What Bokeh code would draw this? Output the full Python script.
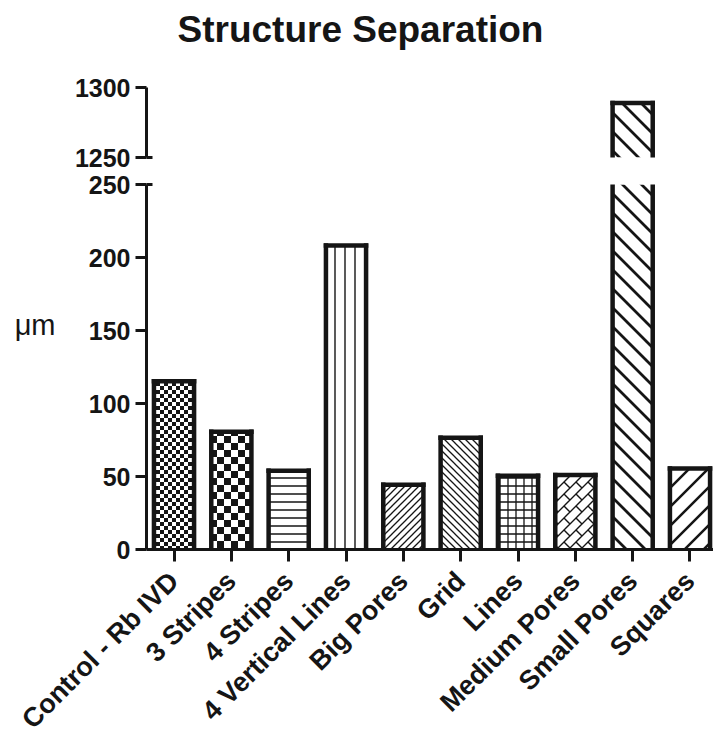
import math
from bokeh.plotting import figure
from bokeh.models import (ColumnDataSource, Range1d, FixedTicker, CanvasTexture,
                          LinearAxis, CDSView, BooleanFilter)
from bokeh.transform import dodge
from bokeh.layouts import column
from bokeh.embed import file_html
from bokeh.resources import INLINE

# ---------------- data ----------------
categories = ["Control - Rb IVD", "3 Stripes", "4 Stripes", "4 Vertical Lines",
              "Big Pores", "Grid", "Lines", "Medium Pores", "Small Pores", "Squares"]
values = [115.3, 80.7, 54.0, 208.2, 44.4, 76.6, 50.5, 51.0, 1289.0, 55.5]
upper_ticks = [1250, 1300]
lower_ticks = [0, 50, 100, 150, 200, 250]
title_text = "Structure Separation"
y_label = "\u03bcm"

# ---------------- styles ----------------
hatch_names = ["chk_fine", "chk_coarse", "hline", "vline", "rdiag_fine",
               "ldiag_fine", "grid", "brick", "ldiag_coarse", "rdiag_coarse"]
hatch_kind = {"chk_fine": ("chk", 8, 1), "chk_coarse": ("chk", 14, 1),
              "hline": ("h", 8, 1.5), "vline": ("v", 10, 1.4),
              "rdiag_fine": ("r", 7, 1.3), "ldiag_fine": ("l", 7, 1.3),
              "grid": ("grid", 8, 1.3), "brick": ("brick", 12, 1.4),
              "ldiag_coarse": ("l", 19, 2.8), "rdiag_coarse": ("r", 19, 2.5)}

INK = "#151515"
FONT = "Liberation Sans"
BAR_W = 0.7
OUTLINE = 4.5
WIDTH = 713
LEFT = 146


def texture_code(kind, S, W):
    js = (f"const S = {S}; const W = {W}; const s = S; const w = W + 1;\n"
          "const cv = ctx.canvas; cv.width = S; cv.height = S;\n"
          "ctx.setTransform(1, 0, 0, 1, 0, 0); ctx.clearRect(0, 0, S, S);\n"
          f"ctx.fillStyle = '{INK}'; ctx.strokeStyle = '{INK}'; ctx.lineWidth = W;\n")
    if kind == "chk":
        return js + "const h = S/2; ctx.fillRect(0, 0, h, h); ctx.fillRect(h, h, h, h);\n"
    js += "ctx.beginPath();\n"
    if kind in ("h", "grid"):
        js += "ctx.moveTo(0, s/2); ctx.lineTo(s, s/2);\n"
    if kind in ("v", "grid"):
        js += "ctx.moveTo(s/2, 0); ctx.lineTo(s/2, s);\n"
    if kind in ("r", "brick"):
        js += ("ctx.moveTo(-1, s+1); ctx.lineTo(s+1, -1);\n"
               "ctx.moveTo(-w, w); ctx.lineTo(w, -w);\n"
               "ctx.moveTo(s-w, s+w); ctx.lineTo(s+w, s-w);\n")
    if kind == "l":
        js += ("ctx.moveTo(-1, -1); ctx.lineTo(s+1, s+1);\n"
               "ctx.moveTo(s-w, -w); ctx.lineTo(s+w, w);\n"
               "ctx.moveTo(-w, s-w); ctx.lineTo(w, s+w);\n")
    if kind == "brick":
        js += "ctx.moveTo(0, 0); ctx.lineTo(s/2, s/2);\n"
    return js + "ctx.stroke();\n"


textures = {name: CanvasTexture(code=texture_code(*spec)) for name, spec in hatch_kind.items()}
hatch_scales = [hatch_kind[n][1] for n in hatch_names]

xs = list(range(len(categories)))
src = ColumnDataSource(dict(x=xs, top=values, hatch=hatch_names, hscale=hatch_scales))

x_range = Range1d(-0.48, 9.41)

# ---------------- title strip ----------------
p_title = figure(width=WIDTH, height=70, x_axis_location=None, y_axis_location=None,
                 output_backend="svg", toolbar_location=None, title=title_text,
                 min_border_left=LEFT, min_border_right=0, min_border_top=0,
                 min_border_bottom=0)
p_title.outline_line_color = None
p_title.background_fill_color = "white"
p_title.border_fill_color = "white"
p_title.title.align = "left"
p_title.title.vertical_align = "top"
p_title.title.offset = 31
p_title.title.standoff = 16
p_title.title.text_font = FONT
p_title.title.text_font_style = "bold"
p_title.title.text_font_size = "37px"
p_title.title.text_color = INK


def make_fig(height, yr, ticks, minor, b_top, b_bottom, bar_mask, top_mask, **kw):
    p = figure(width=WIDTH, height=height, x_range=x_range, y_range=Range1d(*yr),
               output_backend="svg", toolbar_location=None,
               min_border_left=LEFT, min_border_right=0,
               min_border_top=b_top, min_border_bottom=b_bottom, **kw)
    p.xgrid.visible = False
    p.ygrid.visible = False
    p.outline_line_color = None
    p.background_fill_color = "white"
    p.border_fill_color = "white"
    bar_view = CDSView(filter=BooleanFilter(bar_mask))
    top_view = CDSView(filter=BooleanFilter(top_mask))
    # hatched fill
    p.vbar(x="x", top="top", bottom=0, width=BAR_W, source=src, view=bar_view,
           fill_color="white", line_color=None,
           hatch_pattern="hatch", hatch_scale="hscale",
           hatch_color=INK, hatch_extra=textures)
    # outline: sides (open where the axis is broken) and tops inside this segment
    line_kw = dict(source=src, line_color=INK, line_width=OUTLINE, line_cap="square")
    for side in (-BAR_W / 2, BAR_W / 2):
        p.segment(x0=dodge("x", side), y0=0, x1=dodge("x", side), y1="top",
                  view=bar_view, **line_kw)
    p.segment(x0=dodge("x", -BAR_W / 2), y0="top", x1=dodge("x", BAR_W / 2), y1="top",
              view=top_view, **line_kw)
    ya = p.yaxis[0]
    ya.ticker = FixedTicker(ticks=ticks, minor_ticks=minor)
    ya.axis_line_width = 3
    ya.axis_line_color = INK
    ya.major_tick_line_width = 3
    ya.major_tick_line_color = INK
    ya.major_tick_out = 11
    ya.major_tick_in = 0
    ya.minor_tick_line_color = INK
    ya.minor_tick_line_width = 3
    ya.minor_tick_in = 6
    ya.minor_tick_out = 0
    ya.major_label_standoff = 5
    ya.major_label_text_font = FONT
    ya.major_label_text_font_style = "bold"
    ya.major_label_text_font_size = "25px"
    ya.major_label_text_color = INK
    return p


lo_top = lower_ticks[-1]
up_bot = upper_ticks[0]
p_top = make_fig(100, (upper_ticks[0], upper_ticks[-1]), upper_ticks, [up_bot], 17, 13,
                 [v > up_bot for v in values], [v > up_bot for v in values],
                 x_axis_location=None)

p_bot = make_fig(578, (lower_ticks[0], lower_ticks[-1]), lower_ticks, [lo_top], 14, 188,
                 [True] * len(values), [v <= lo_top for v in values])
xa = p_bot.xaxis[0]
xa.ticker = FixedTicker(ticks=xs)
xa.major_label_overrides = {i: c for i, c in zip(xs, categories)}
xa.major_label_orientation = math.pi / 4
xa.axis_line_width = 3
xa.axis_line_color = INK
xa.major_tick_line_width = 3
xa.major_tick_line_color = INK
xa.major_tick_out = 12
xa.major_tick_in = 0
xa.minor_tick_line_color = None
xa.major_label_standoff = 15
xa.major_label_text_font = FONT
xa.major_label_text_font_style = "bold"
xa.major_label_text_font_size = "27px"
xa.major_label_text_color = INK

# unit label, horizontal, to the left of the value axis
unit_pos = 154
unit_axis = LinearAxis(ticker=FixedTicker(ticks=[unit_pos]),
                       major_label_overrides={unit_pos: y_label},
                       axis_line_color=None, major_tick_line_color=None,
                       minor_tick_line_color=None, major_tick_out=0, major_tick_in=0,
                       major_label_standoff=30, major_label_text_font=FONT,
                       major_label_text_font_size="29px", major_label_text_color=INK)
p_bot.add_layout(unit_axis, "left")

layout = column(p_title, p_top, p_bot, spacing=0)
open("out.html", "w").write(file_html(layout, INLINE, title=title_text))
